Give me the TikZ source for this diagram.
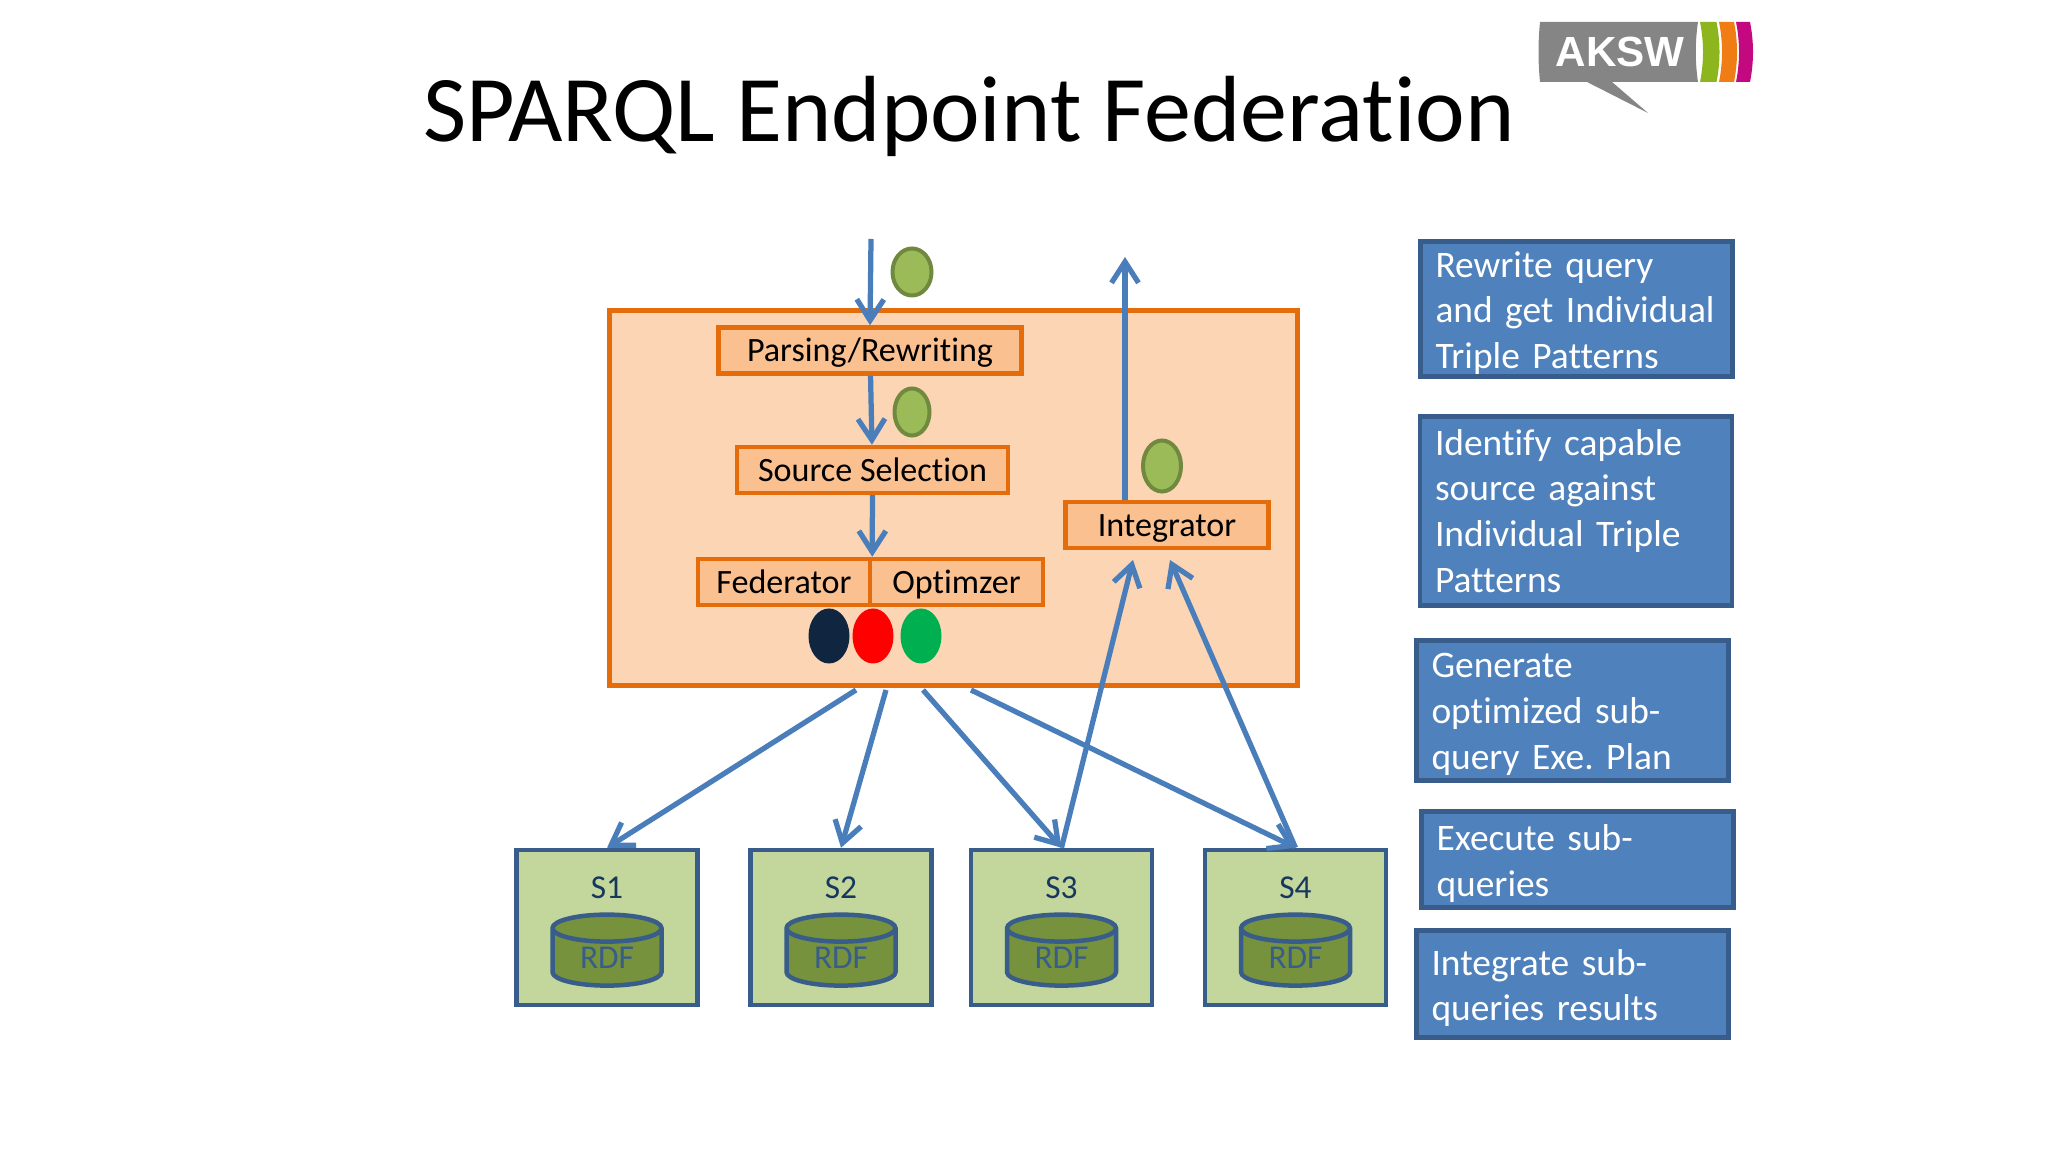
\documentclass[tikz,border=0pt]{standalone}
\usepackage{fontspec}
\setmainfont[Ligatures=NoCommon]{Carlito}
\newfontfamily\logofont{Liberation Sans}
\usepackage{tikz}
\usetikzlibrary{arrows.meta,positioning,shapes.geometric}

\definecolor{flowblue}{HTML}{4A7EBB}
\definecolor{orangeline}{HTML}{E46C0A}
\definecolor{orangepale}{HTML}{FCD5B5}
\definecolor{orangemid}{HTML}{FAC090}
\definecolor{slateline}{HTML}{385D8A}
\definecolor{slatefill}{HTML}{4F81BD}
\definecolor{sourcefill}{HTML}{C3D69B}
\definecolor{drumfill}{HTML}{76923C}
\definecolor{tokenfill}{HTML}{9BBB59}
\definecolor{tokenline}{HTML}{71893F}
\definecolor{inkblue}{HTML}{17375E}
\definecolor{dotnavy}{HTML}{10253F}
\definecolor{dotgreen}{HTML}{00B050}
\definecolor{logogray}{HTML}{858585}
\definecolor{logogreen}{HTML}{8DB51E}
\definecolor{logoorange}{HTML}{EF7D14}
\definecolor{logopink}{HTML}{C4087F}

\begin{document}
\frenchspacing
\begin{tikzpicture}[->,>={Straight Barb[length=0.42cm,width=0.54cm]},
                    flowblue,line width=0.105cm]
  \tikzstyle{stage}=[draw=orangeline,fill=orangemid,text=black,line width=0.09cm,
                     minimum height=0.92cm,inner sep=0pt,text height=0.5cm,text depth=0.04cm,
                     font=\fontsize{19.4}{23}\selectfont]
  \tikzstyle{token}=[ellipse,draw=tokenline,fill=tokenfill,line width=0.08cm,inner sep=0pt]
  \tikzstyle{dot}=[ellipse,minimum width=0.82cm,minimum height=1.1cm,inner sep=0pt]
  \tikzstyle{source}=[draw=slateline,fill=sourcefill,line width=0.09cm,inner sep=0pt,
                      minimum width=3.62cm,minimum height=3.1cm]
  \tikzstyle{drum}=[cylinder,shape border rotate=90,aspect=0.5,draw=slateline,line width=0.09cm,
                    cylinder uses custom fill,cylinder body fill=drumfill,cylinder end fill=drumfill,
                    minimum width=2.18cm,minimum height=1.42cm,inner sep=0pt,text=slateline,
                    font=\fontsize{19}{22}\selectfont]
  \tikzstyle{note}=[draw=slateline,fill=slatefill,text=white,line width=0.09cm,inner xsep=0.3cm,
                    inner ysep=0pt,text width=5.64cm,align=left,
                    font=\fontsize{21.3}{26}\selectfont]
  \tikzstyle{notedown}=[note,execute at end node={\vspace*{-0.16cm}}]
  \tikzstyle{srclabel}=[text=inkblue,inner sep=0pt,font=\fontsize{19}{22}\selectfont]

  \useasboundingbox (0,0) rectangle (40.96,23.04);

  \node[text=black,inner sep=0pt,font=\fontsize{53.5}{64}\selectfont] (title) at (19.38,20.71)
       {SPARQL Endpoint Federation};

  % logo
  \fill[logogray] (30.8,22.6) -- (33.96,22.6) .. controls (33.9,22.2) and (33.9,21.8) .. (33.96,21.4)
       -- (32.24,21.4) -- (32.96,20.78) -- (31.74,21.4) -- (30.8,21.4)
       .. controls (30.76,21.8) and (30.76,22.2) .. (30.8,22.6) -- cycle;
  \fill[logogreen] (34.0,22.6) .. controls (34.08,22.2) and (34.08,21.8) .. (34.0,21.4)
       -- (34.33,21.4) .. controls (34.41,21.8) and (34.41,22.2) .. (34.33,22.6) -- cycle;
  \fill[logoorange] (34.38,22.6) .. controls (34.46,22.2) and (34.46,21.8) .. (34.38,21.4)
       -- (34.68,21.4) .. controls (34.76,21.8) and (34.76,22.2) .. (34.68,22.6) -- cycle;
  \fill[logopink] (34.72,22.6) .. controls (34.8,22.2) and (34.8,21.8) .. (34.72,21.4)
       -- (35.0,21.4) .. controls (35.08,21.8) and (35.08,22.2) .. (35.0,22.6) -- cycle;
  \node[text=white,inner sep=0pt,font=\logofont\bfseries\fontsize{24}{28}\selectfont] (logo) at (32.4,22)
       {AKSW};

  \node[draw=orangeline,fill=orangepale,line width=0.09cm,minimum width=13.76cm,minimum height=7.5cm,
        inner sep=0pt] (engine) at (19.07,13.08) {};

  \node[stage,minimum width=6.06cm]  (parse) at (17.4,16.03) {Parsing/Rewriting};
  \node[stage,minimum width=5.42cm]  (select) at (17.45,13.64) {Source Selection};
  \node[stage,minimum width=3.44cm]  (fed) at (15.68,11.4) {Federator};
  \node[stage,minimum width=3.46cm]  (opt) [right=-0.09cm of fed] {Optimzer};
  \node[stage,minimum width=4.06cm]  (integ) at (23.34,12.54) {Integrator};

  \node[token,minimum width=0.78cm,minimum height=0.94cm] (tok1) at (18.24,17.6) {};
  \node[token,minimum width=0.7cm,minimum height=0.94cm]  (tok2) at (18.24,14.8) {};
  \node[token,minimum width=0.76cm,minimum height=1.02cm] (tok3) at (23.24,13.72) {};

  \node[dot,fill=dotnavy]  (dot1) at (16.58,10.32) {};
  \node[dot,fill=red]      (dot2) at (17.46,10.32) {};
  \node[dot,fill=dotgreen] (dot3) at (18.42,10.32) {};

  \node[source] (s1) at (12.14,4.49) {};
  \node[source] (s2) at (16.82,4.49) {};
  \node[source] (s3) at (21.23,4.49) {};
  \node[source] (s4) at (25.91,4.49) {};

  \node[srclabel] (l1) at (12.14,5.28) {S1};
  \node[srclabel] (l2) at (16.82,5.28) {S2};
  \node[srclabel] (l3) at (21.23,5.28) {S3};
  \node[srclabel] (l4) at (25.91,5.28) {S4};

  \node[drum] (d1) at (12.14,3.88) {RDF};
  \node[drum] (d2) at (16.82,3.88) {RDF};
  \node[drum] (d3) at (21.23,3.88) {RDF};
  \node[drum] (d4) at (25.91,3.88) {RDF};

  \node[notedown,minimum height=2.7cm] (n1) at (31.53,16.86) {Rewrite query\\and get Individual\\Triple Patterns};
  \node[note,minimum height=3.78cm]    (n2) at (31.52,12.82) {Identify capable\\source against\\Individual Triple\\Patterns};
  \node[notedown,minimum height=2.8cm] (n3) at (31.45,8.83)  {Generate\\optimized sub-\\query Exe. Plan};
  \node[notedown,minimum height=1.92cm] (n4) at (31.55,5.85) {Execute sub-\\queries};
  \node[notedown,minimum height=2.14cm] (n5) at (31.45,3.36) {Integrate sub-\\queries results};

  \coordinate (qin) at (17.42,18.26);
  \coordinate (qout) at (22.5,17.9);
  \coordinate (o1) at (17.12,9.24);
  \coordinate (o2) at (17.72,9.24);
  \coordinate (o3) at (18.46,9.24);
  \coordinate (o4) at (19.42,9.24);
  \coordinate (i3) at (22.66,11.84);
  \coordinate (i4) at (23.4,11.84);

  \path (qin)    edge (parse.north)
        (parse)  edge (select)
        (select) edge (fed.north east)
        (integ.north -| qout) edge (qout)
        (o1)     edge (s1.north)
        (o2)     edge (s2.north)
        (o3)     edge (s3.north)
        (o4)     edge (s4.north)
        (s3.north) edge (i3)
        (s4.north) edge (i4);
\end{tikzpicture}
\end{document}
